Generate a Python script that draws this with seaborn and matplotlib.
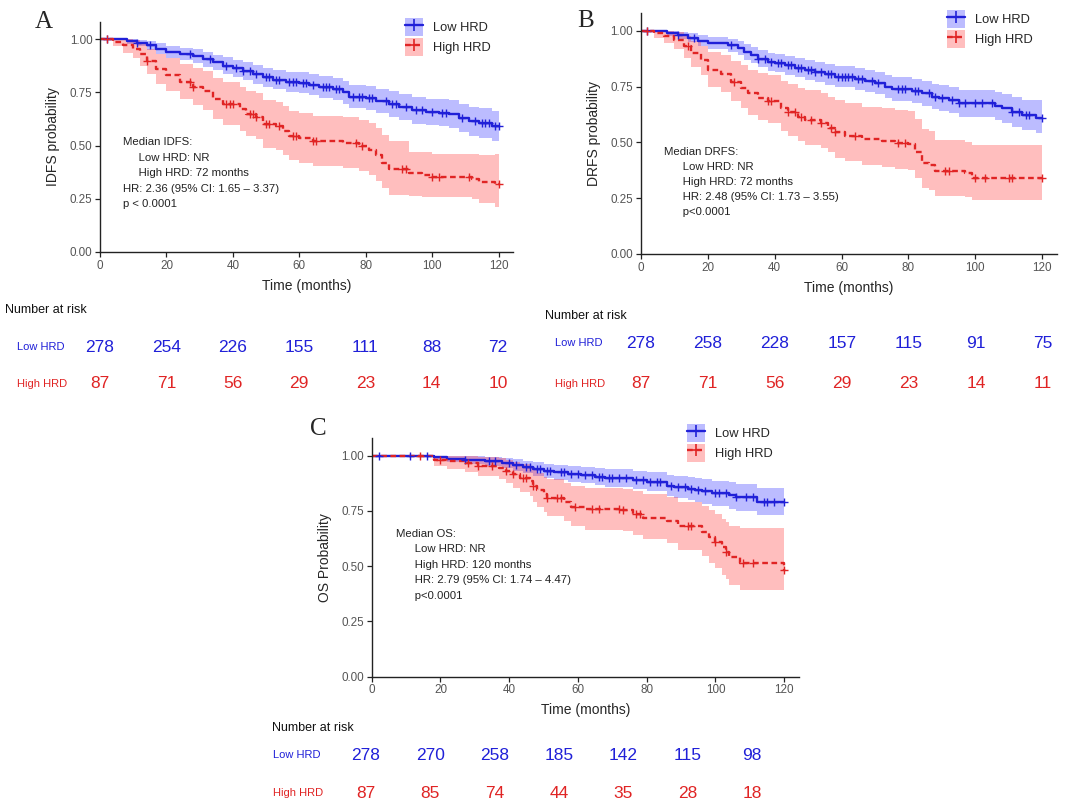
import numpy as np
import matplotlib.pyplot as plt
import seaborn as sns
from matplotlib.patches import Patch
from matplotlib.lines import Line2D

# ---- data ----
risk_times = [0, 20, 40, 60, 80, 100, 120]

# Panel A (IDFS)
a_low_t = [0, 8, 11, 14, 17, 20, 24, 28, 31, 34, 37, 40, 43, 46, 49, 52, 56, 60, 63, 66, 70, 73, 75, 80, 83, 87, 90, 94, 98, 102, 105, 108, 111, 114, 118]
a_low_s = [1.0, 0.99, 0.98, 0.97, 0.955, 0.94, 0.93, 0.92, 0.905, 0.89, 0.875, 0.862, 0.85, 0.835, 0.82, 0.81, 0.80, 0.795, 0.785, 0.775, 0.765, 0.75, 0.73, 0.725, 0.71, 0.695, 0.68, 0.665, 0.658, 0.655, 0.648, 0.63, 0.615, 0.605, 0.59]
a_low_hi = [1.0, 1.0, 0.995, 0.99, 0.98, 0.968, 0.96, 0.952, 0.94, 0.927, 0.914, 0.903, 0.892, 0.879, 0.865, 0.856, 0.847, 0.843, 0.834, 0.825, 0.817, 0.803, 0.785, 0.781, 0.767, 0.754, 0.74, 0.727, 0.72, 0.718, 0.712, 0.696, 0.683, 0.674, 0.662]
a_low_lo = [1.0, 0.978, 0.965, 0.95, 0.93, 0.912, 0.9, 0.888, 0.87, 0.853, 0.836, 0.822, 0.808, 0.791, 0.775, 0.764, 0.753, 0.747, 0.736, 0.725, 0.713, 0.697, 0.675, 0.669, 0.653, 0.636, 0.62, 0.603, 0.595, 0.592, 0.584, 0.564, 0.547, 0.536, 0.52]
a_low_cens = [2, 11, 15, 27, 33, 38, 41, 43, 45, 47, 50, 51, 53, 54, 57, 58, 59, 61, 62, 64, 67, 68, 69, 71, 72, 76, 78, 79, 81, 82, 86, 88, 89, 92, 95, 97, 100, 103, 104, 109, 113, 115, 116, 117, 119, 120]

a_high_t = [0, 4, 7, 10, 12, 14, 17, 20, 24, 28, 31, 34, 37, 42, 44, 47, 49, 53, 55, 57, 60, 64, 73, 78, 81, 83, 85, 87, 93, 97, 100, 112, 114, 119]
a_high_s = [1.0, 0.988, 0.97, 0.955, 0.93, 0.895, 0.86, 0.83, 0.80, 0.775, 0.755, 0.72, 0.695, 0.67, 0.65, 0.635, 0.60, 0.59, 0.57, 0.545, 0.535, 0.52, 0.51, 0.497, 0.48, 0.455, 0.42, 0.39, 0.37, 0.36, 0.35, 0.345, 0.33, 0.318]
a_high_hi = [1.0, 1.0, 1.0, 0.995, 0.98, 0.955, 0.93, 0.91, 0.885, 0.865, 0.848, 0.818, 0.797, 0.775, 0.757, 0.745, 0.712, 0.703, 0.685, 0.662, 0.653, 0.64, 0.632, 0.62, 0.605, 0.582, 0.55, 0.52, 0.47, 0.468, 0.462, 0.46, 0.455, 0.46]
a_high_lo = [1.0, 0.965, 0.935, 0.91, 0.875, 0.835, 0.79, 0.755, 0.72, 0.69, 0.665, 0.625, 0.597, 0.57, 0.547, 0.53, 0.49, 0.478, 0.456, 0.43, 0.42, 0.405, 0.395, 0.38, 0.36, 0.335, 0.30, 0.27, 0.262, 0.26, 0.258, 0.25, 0.23, 0.21]
a_high_cens = [2, 14, 27, 28, 38, 39, 40, 45, 46, 47, 50, 51, 54, 58, 59, 64, 65, 77, 79, 91, 92, 100, 102, 111, 120]

a_risk_low = [278, 254, 226, 155, 111, 88, 72]
a_risk_high = [87, 71, 56, 29, 23, 14, 10]

# Panel B (DRFS)
b_low_t = [0, 8, 11, 14, 17, 20, 26, 29, 31, 33, 35, 38, 40, 43, 46, 49, 52, 55, 58, 64, 67, 70, 73, 75, 81, 84, 87, 89, 92, 95, 106, 108, 111, 114, 118]
b_low_s = [1.0, 0.99, 0.98, 0.97, 0.955, 0.945, 0.935, 0.922, 0.905, 0.89, 0.875, 0.862, 0.855, 0.845, 0.835, 0.825, 0.815, 0.805, 0.795, 0.785, 0.775, 0.765, 0.75, 0.738, 0.73, 0.72, 0.705, 0.698, 0.69, 0.675, 0.665, 0.653, 0.635, 0.623, 0.611]
b_low_hi = [1.0, 1.0, 0.995, 0.99, 0.98, 0.972, 0.964, 0.953, 0.939, 0.926, 0.913, 0.902, 0.896, 0.887, 0.878, 0.869, 0.86, 0.851, 0.842, 0.833, 0.824, 0.815, 0.802, 0.791, 0.784, 0.775, 0.762, 0.756, 0.749, 0.736, 0.728, 0.717, 0.702, 0.692, 0.69]
b_low_lo = [1.0, 0.978, 0.965, 0.95, 0.93, 0.918, 0.906, 0.891, 0.871, 0.854, 0.837, 0.822, 0.814, 0.803, 0.792, 0.781, 0.77, 0.759, 0.748, 0.737, 0.726, 0.715, 0.698, 0.685, 0.676, 0.665, 0.648, 0.64, 0.631, 0.614, 0.602, 0.589, 0.568, 0.555, 0.544]
b_low_cens = [2, 11, 16, 27, 35, 37, 39, 41, 42, 44, 45, 47, 48, 50, 51, 52, 54, 56, 57, 59, 60, 61, 62, 63, 65, 66, 69, 71, 77, 78, 79, 82, 83, 86, 88, 90, 93, 95, 97, 100, 102, 105, 111, 113, 115, 116, 120]

b_high_t = [0, 4, 7, 10, 13, 15, 18, 20, 24, 27, 30, 32, 35, 38, 42, 44, 47, 49, 54, 56, 58, 61, 66, 72, 76, 80, 82, 84, 86, 88, 97, 99]
b_high_s = [1.0, 0.99, 0.975, 0.96, 0.93, 0.9, 0.87, 0.825, 0.805, 0.77, 0.745, 0.72, 0.698, 0.685, 0.655, 0.638, 0.615, 0.60, 0.585, 0.565, 0.545, 0.53, 0.515, 0.505, 0.496, 0.493, 0.455, 0.41, 0.40, 0.37, 0.362, 0.34]
b_high_hi = [1.0, 1.0, 1.0, 0.995, 0.975, 0.955, 0.93, 0.905, 0.89, 0.865, 0.845, 0.825, 0.81, 0.80, 0.775, 0.762, 0.745, 0.735, 0.722, 0.705, 0.688, 0.676, 0.66, 0.654, 0.645, 0.64, 0.605, 0.56, 0.55, 0.51, 0.5, 0.49]
b_high_lo = [1.0, 0.97, 0.945, 0.92, 0.88, 0.84, 0.80, 0.75, 0.725, 0.685, 0.655, 0.625, 0.6, 0.585, 0.55, 0.53, 0.505, 0.49, 0.475, 0.455, 0.432, 0.418, 0.40, 0.39, 0.38, 0.375, 0.34, 0.295, 0.285, 0.26, 0.255, 0.24]
b_high_cens = [2, 14, 28, 38, 39, 44, 46, 48, 51, 54, 57, 58, 64, 77, 79, 91, 92, 100, 103, 110, 111, 120]

b_risk_low = [278, 258, 228, 157, 115, 91, 75]
b_risk_high = [87, 71, 56, 29, 23, 14, 11]

# Panel C (OS)
c_low_t = [0, 18, 22, 27, 33, 38, 41, 44, 47, 50, 53, 57, 61, 65, 68, 76, 80, 86, 88, 92, 94, 96, 99, 104, 106, 112]
c_low_s = [1.0, 0.992, 0.985, 0.98, 0.975, 0.968, 0.958, 0.948, 0.94, 0.932, 0.925, 0.918, 0.912, 0.905, 0.9, 0.89, 0.883, 0.865, 0.857, 0.85, 0.845, 0.838, 0.83, 0.82, 0.812, 0.79]
c_low_hi = [1.0, 1.0, 1.0, 0.998, 0.995, 0.99, 0.983, 0.975, 0.97, 0.963, 0.958, 0.953, 0.948, 0.943, 0.94, 0.932, 0.928, 0.913, 0.907, 0.902, 0.898, 0.893, 0.887, 0.88, 0.874, 0.855]
c_low_lo = [1.0, 0.98, 0.97, 0.962, 0.955, 0.945, 0.932, 0.92, 0.91, 0.9, 0.892, 0.883, 0.876, 0.867, 0.86, 0.848, 0.838, 0.817, 0.807, 0.798, 0.792, 0.783, 0.773, 0.76, 0.75, 0.73]
c_low_cens = [2, 11, 16, 27, 34, 36, 40, 42, 45, 46, 48, 49, 51, 52, 55, 56, 58, 60, 62, 64, 66, 67, 69, 70, 72, 74, 77, 79, 81, 83, 84, 87, 89, 91, 93, 95, 97, 100, 101, 103, 106, 109, 111, 114, 115, 117, 120]

c_high_t = [0, 18, 22, 27, 31, 37, 39, 41, 43, 46, 47, 48, 50, 51, 56, 58, 62, 73, 76, 79, 86, 89, 96, 98, 100, 102, 103, 104, 107, 120]
c_high_s = [1.0, 0.982, 0.975, 0.965, 0.955, 0.945, 0.93, 0.915, 0.9, 0.887, 0.865, 0.845, 0.825, 0.808, 0.79, 0.77, 0.757, 0.752, 0.737, 0.72, 0.705, 0.68, 0.655, 0.63, 0.61, 0.585, 0.565, 0.54, 0.514, 0.485]
c_high_hi = [1.0, 1.0, 1.0, 0.998, 0.994, 0.99, 0.982, 0.972, 0.962, 0.953, 0.938, 0.923, 0.905, 0.893, 0.878, 0.862, 0.852, 0.848, 0.838, 0.825, 0.812, 0.792, 0.772, 0.752, 0.735, 0.715, 0.7, 0.68, 0.672, 0.672]
c_high_lo = [1.0, 0.955, 0.94, 0.925, 0.91, 0.895, 0.875, 0.855, 0.835, 0.818, 0.792, 0.768, 0.745, 0.725, 0.705, 0.68, 0.665, 0.66, 0.642, 0.622, 0.605, 0.575, 0.545, 0.515, 0.492, 0.462, 0.44, 0.415, 0.392, 0.392]
c_high_cens = [14, 20, 28, 31, 35, 39, 41, 44, 45, 47, 51, 54, 55, 59, 64, 66, 72, 73, 77, 78, 92, 93, 100, 103, 108, 111, 120]

c_risk_low = [278, 270, 258, 185, 142, 115, 98]
c_risk_high = [87, 85, 74, 44, 35, 28, 18]

# ---- style ----
W, H = 1080, 806
BLUE = "#2020d8"
RED = "#e02424"
BLUE_BAND = "#3535ff"
RED_BAND = "#ff3b3b"
END_T = 120

sns.set_style("ticks")
plt.rcParams["font.family"] = ["Liberation Sans", "DejaVu Sans"]


def step_at(t, s, c):
    idx = np.searchsorted(t, c, side="right") - 1
    return np.asarray(s)[idx]


def draw_km(ax, t, s, lo, hi, cens, color, band, dashed):
    tt = np.append(t, END_T)
    ss = np.append(s, s[-1])
    ax.fill_between(tt, np.append(lo, lo[-1]), np.append(hi, hi[-1]),
                    step="post", color=band, alpha=0.33, lw=0, zorder=1)
    ls = (0, (2.4, 1.5)) if dashed else "-"
    sns.lineplot(x=tt, y=ss, ax=ax, drawstyle="steps-post", estimator=None,
                 sort=False, color=color, lw=1.7, linestyle=ls, zorder=2)
    sns.scatterplot(x=cens, y=step_at(t, s, cens), ax=ax, marker="+", s=32,
                    color=color, linewidth=1.0, zorder=3)


def setup_axes(rect_px, ylabel):
    l, r, t, b = rect_px
    ax = fig.add_axes([l / W, 1 - b / H, (r - l) / W, (b - t) / H])
    ax.set_xlim(0, 124.3)
    ax.set_ylim(0, 1.08)
    ax.set_xticks([0, 20, 40, 60, 80, 100, 120])
    ax.set_yticks([0, 0.25, 0.5, 0.75, 1.0])
    ax.set_yticklabels(["0.00", "0.25", "0.50", "0.75", "1.00"])
    ax.tick_params(direction="out", length=3.5, width=0.9, labelsize=8.4,
                   labelcolor="#555555", color="#222222", pad=2)
    for side in ["left", "bottom"]:
        ax.spines[side].set_linewidth(1.0)
        ax.spines[side].set_color("#222222")
    sns.despine(ax=ax)
    ax.set_xlabel("Time (months)", fontsize=10, labelpad=5)
    ax.set_ylabel(ylabel, fontsize=10, labelpad=7)
    return ax


def add_legend(ax, anchor):
    handles = [(Patch(facecolor=BLUE_BAND, alpha=0.33, lw=0),
                Line2D([], [], color=BLUE, lw=1.7, marker="+", ms=8, mew=1.2)),
               (Patch(facecolor=RED_BAND, alpha=0.33, lw=0),
                Line2D([], [], color=RED, lw=1.7, ls=(0, (2.4, 1.5)), marker="+", ms=8, mew=1.2))]
    ax.legend(handles=handles, labels=["Low HRD", "High HRD"], loc="upper left",
              bbox_to_anchor=anchor, frameon=False, fontsize=9.3, handlelength=1.4,
              handleheight=1.8, labelspacing=0.12, handletextpad=0.8,
              borderaxespad=0, borderpad=0)


def risk_table(x0, x120, title_xy, label_x, rows_y, low_vals, high_vals):
    ax_t = fig.add_axes([x0 / W, 0, (x120 - x0) / W, 1])
    ax_t.set_xlim(0, 120)
    ax_t.set_ylim(H, 0)
    ax_t.axis("off")
    ax_t.patch.set_alpha(0)
    for tm, n in zip(risk_times, low_vals):
        ax_t.text(tm, rows_y[0], str(n), ha="center", va="center", fontsize=12.5, color=BLUE)
    for tm, n in zip(risk_times, high_vals):
        ax_t.text(tm, rows_y[1], str(n), ha="center", va="center", fontsize=12.5, color=RED)
    fig.text(title_xy[0] / W, 1 - title_xy[1] / H, "Number at risk", fontsize=9,
             ha="left", va="center", color="#111111")
    fig.text(label_x / W, 1 - rows_y[0] / H, "Low HRD", fontsize=8, ha="left",
             va="center", color=BLUE)
    fig.text(label_x / W, 1 - rows_y[1] / H, "High HRD", fontsize=8, ha="left",
             va="center", color=RED)


fig = plt.figure(figsize=(W / 100, H / 100), dpi=100)

# Panel A
ax_a = setup_axes((100, 513, 22, 252), "IDFS probability")
draw_km(ax_a, a_low_t, a_low_s, a_low_lo, a_low_hi, a_low_cens, BLUE, BLUE_BAND, False)
draw_km(ax_a, a_high_t, a_high_s, a_high_lo, a_high_hi, a_high_cens, RED, RED_BAND, True)
add_legend(ax_a, (0.738, 1.017))
ax_a.text(6.8, 0.538, "Median IDFS:\n     Low HRD: NR\n     High HRD: 72 months\n"
          "HR: 2.36 (95% CI: 1.65 \u2013 3.37)\np < 0.0001",
          fontsize=8.2, va="top", ha="left", color="#222222", linespacing=1.68)
fig.text(35 / W, 1 - 28 / H, "A", family="Liberation Serif", fontsize=18, va="baseline")

# Panel B
ax_b = setup_axes((640.7, 1056.7, 13, 254), "DRFS probability")
draw_km(ax_b, b_low_t, b_low_s, b_low_lo, b_low_hi, b_low_cens, BLUE, BLUE_BAND, False)
draw_km(ax_b, b_high_t, b_high_s, b_high_lo, b_high_hi, b_high_cens, RED, RED_BAND, True)
add_legend(ax_b, (0.736, 1.012))
ax_b.text(7.0, 0.478, "Median DRFS:\n      Low HRD: NR\n      High HRD: 72 months\n"
          "      HR: 2.48 (95% CI: 1.73 \u2013 3.55)\n      p<0.0001",
          fontsize=8.2, va="top", ha="left", color="#222222", linespacing=1.6)
fig.text(577 / W, 1 - 27 / H, "B", family="Liberation Serif", fontsize=18, va="baseline")

# Panel C
ax_c = setup_axes((371.7, 799, 438, 676.7), "OS Probability")
draw_km(ax_c, c_low_t, c_low_s, c_low_lo, c_low_hi, c_low_cens, BLUE, BLUE_BAND, False)
draw_km(ax_c, c_high_t, c_high_s, c_high_lo, c_high_hi, c_high_cens, RED, RED_BAND, True)
add_legend(ax_c, (0.738, 1.059))
ax_c.text(7.1, 0.669, "Median OS:\n      Low HRD: NR\n      High HRD: 120 months\n"
          "      HR: 2.79 (95% CI: 1.74 \u2013 4.47)\n      p<0.0001",
          fontsize=8.2, va="top", ha="left", color="#222222", linespacing=1.68)
fig.text(310 / W, 1 - 435 / H, "C", family="Liberation Serif", fontsize=18, va="baseline")

# risk tables
risk_table(100, 498, (5, 310), 17, (347, 384), a_risk_low, a_risk_high)
risk_table(641, 1043, (545, 316), 555, (343, 384), b_risk_low, b_risk_high)
risk_table(366, 752, (272, 728), 273, (755, 793), c_risk_low, c_risk_high)

fig.savefig("out.png", dpi=100)
